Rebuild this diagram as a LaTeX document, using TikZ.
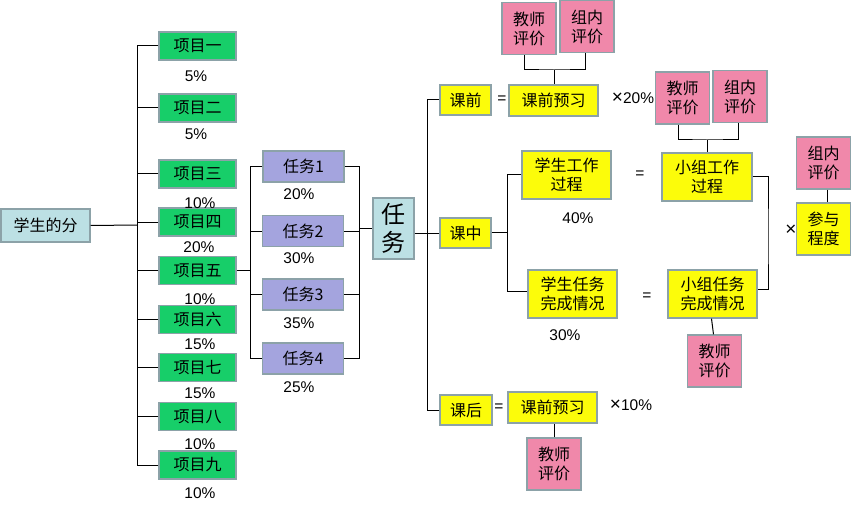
\documentclass[tikz,border=0pt]{standalone}
\usepackage{fontspec}
\setmainfont{Liberation Sans}
\newfontfamily\cjk{Noto Sans CJK SC}
\definecolor{bordergray}{HTML}{8CA2A8}
\definecolor{mgreen}{HTML}{17CE69}
\definecolor{mpurple}{HTML}{A4A4DE}
\definecolor{mpink}{HTML}{F088AA}
\definecolor{myellow}{HTML}{FCFC0A}
\definecolor{mblue}{HTML}{BCE0E4}
\tikzset{
  box/.style={draw=bordergray, line width=1.2pt, inner sep=0pt, align=center,
    font=\cjk\fontsize{16}{19}\selectfont},
  gbox/.style={box, fill=mgreen, minimum width=77pt, minimum height=28pt},
  pbox/.style={box, fill=mpurple, minimum width=81pt, minimum height=31pt},
  ybox/.style={box, fill=myellow},
  kbox/.style={box, fill=mpink, minimum width=54pt, minimum height=52pt},
  pct/.style={inner sep=0pt, font=\fontsize{15.5}{18}\selectfont},
  conn/.style={line width=1pt, black},
}
\newcommand{\tms}{{\fontsize{19}{18}\selectfont ×}}
\begin{document}
\begin{tikzpicture}[x=1pt,y=-1pt]
\useasboundingbox (0,0) rectangle (852,508);
% root
\node[box, fill=mblue, minimum width=89pt, minimum height=33pt] (root) at (45.5,225.5) {学生的分};
% projects
\node[gbox] (p1) at (197.5,46) {项目一};
\node[gbox] (p2) at (197.5,108) {项目二};
\node[gbox] (p3) at (197.5,174) {项目三};
\node[gbox] (p4) at (197.5,222) {项目四};
\node[gbox] (p5) at (197.5,270.5) {项目五};
\node[gbox] (p6) at (197.5,319.5) {项目六};
\node[gbox] (p7) at (197.5,367.5) {项目七};
\node[gbox] (p8) at (197.5,416.5) {项目八};
\node[gbox] (p9) at (197.5,465) {项目九};
\node[pct] (q1) at (196,76) {5\%};
\node[pct] (q2) at (196,134) {5\%};
\node[pct] (q3) at (200,203) {10\%};
\node[pct] (q4) at (199,247) {20\%};
\node[pct] (q5) at (200,299) {10\%};
\node[pct] (q6) at (200,344) {15\%};
\node[pct] (q7) at (200,393) {15\%};
\node[pct] (q8) at (200,444) {10\%};
\node[pct] (q9) at (200,493) {10\%};
\coordinate (trunk) at (137,225);
\draw[conn] (root.east) -- (trunk);
\draw[conn] (p1.west -| trunk) -- (p9.west -| trunk);
\foreach \i in {1,...,9} \draw[conn] (p\i.west) -- (p\i.west -| trunk);
% tasks
\node[pbox] (t1) at (303.5,166.5) {任务1};
\node[pbox] (t2) at (303,231) {任务2};
\node[pbox] (t3) at (303,294.5) {任务3};
\node[pbox] (t4) at (303,358.5) {任务4};
\node[pct] (r1) at (299,194) {20\%};
\node[pct] (r2) at (299,258) {30\%};
\node[pct] (r3) at (299,323) {35\%};
\node[pct] (r4) at (299,387) {25\%};
\coordinate (lb) at (250,270);
\coordinate (rb) at (359,228);
\draw[conn] (t1.west -| lb) -- (t4.west -| lb);
\foreach \i in {1,...,4} \draw[conn] (t\i.west) -- (t\i.west -| lb);
\draw[conn] (p5.east) -- (p5.east -| lb);
\draw[conn] (t1.east -| rb) -- (t4.east -| rb);
\foreach \i in {1,...,4} \draw[conn] (t\i.east) -- (t\i.east -| rb);
% big task
\node[box, fill=mblue, minimum width=41pt, minimum height=61pt,
  font=\cjk\fontsize{24}{28}\selectfont] (rw) at (393.5,228.5) {任\\务};
\draw[conn] (rb) -- (rb -| rw.west);
\coordinate (sb) at (427,233);
\draw[conn] (rw.east |- sb) -- (sb);
% lesson stages
\node[ybox, minimum width=51pt, minimum height=30pt] (kq) at (465.5,100) {课前};
\node[ybox, minimum width=51pt, minimum height=30pt] (kz) at (465.5,233) {课中};
\node[ybox, minimum width=52pt, minimum height=30pt] (kh) at (466,410) {课后};
\draw[conn] (kq.west -| sb) -- (kh.west -| sb);
\draw[conn] (kq.west) -- (kq.west -| sb);
\draw[conn] (kz.west) -- (kz.west -| sb);
\draw[conn] (kh.west) -- (kh.west -| sb);
% pre-class
\node[pct] (e1) at (502,100) {=};
\node[ybox, minimum width=89pt, minimum height=31pt] (y1) at (553.5,100.5) {课前预习};
\node[pct] (m1) at (633,98) {\tms 20\%};
\node[kbox] (a1) at (529,28.5) {教师\\评价};
\node[kbox] (b1) at (587,26.5) {组内\\评价};
\coordinate (j1) at (554,70);
\draw[conn] ([xshift=-5pt]a1.south) |- (j1) -| ([xshift=-2pt]b1.south);
\draw[conn] (j1) -- (j1 |- y1.north);
% in-class
\coordinate (cb) at (507,232);
\node[ybox, minimum width=89pt, minimum height=48pt] (w1) at (566.5,175) {学生工作\\过程};
\node[ybox, minimum width=89pt, minimum height=48pt] (w2) at (572.5,294) {学生任务\\完成情况};
\draw[conn] (kz.east |- cb) -- (cb);
\draw[conn] (w1.west -| cb) -- ([yshift=3pt]w2.west -| cb);
\draw[conn] (w1.west) -- (w1.west -| cb);
\draw[conn] ([yshift=3pt]w2.west) -- ([yshift=3pt]w2.west -| cb);
\node[pct] (f1) at (578,218) {40\%};
\node[pct] (f2) at (565,335) {30\%};
\node[pct] (e2) at (640,175) {=};
\node[pct] (e3) at (647,297) {=};
\node[ybox, minimum width=90pt, minimum height=48pt] (g1) at (707,177) {小组工作\\过程};
\node[ybox, minimum width=89pt, minimum height=48pt] (g2) at (712.5,294) {小组任务\\完成情况};
\node[kbox] (a2) at (682.5,98) {教师\\评价};
\node[kbox] (b2) at (740,96.5) {组内\\评价};
\coordinate (j2) at (707,140);
\draw[conn] ([xshift=-4pt]a2.south) |- (j2) -| ([xshift=-2pt]b2.south);
\draw[conn] (j2) -- (g1.north);
\coordinate (gb) at (768,240);
\draw[conn] (g1.east) -| (gb) |- ([yshift=5pt]g2.east);
\node[kbox] (a3) at (714.5,361) {教师\\评价};
\draw[conn] ([xshift=-1pt]g2.south) -- ([xshift=-1pt]a3.north);
\node[pct] (x1) at (791,230) {\tms};
\node[kbox] (b3) at (823.5,163) {组内\\评价};
\node[ybox, minimum width=54pt, minimum height=52pt] (c3) at (823.5,229) {参与\\程度};
\draw[conn] ([xshift=4pt]b3.south) -- ([xshift=4pt]c3.north);
% after class
\node[pct] (e4) at (499,408) {=};
\node[ybox, minimum width=89pt, minimum height=31pt] (y2) at (552.5,407.5) {课前预习};
\node[pct] (m2) at (631,405) {\tms 10\%};
\node[kbox] (a4) at (554,464) {教师\\评价};
\draw[conn] (a4.north) -- (a4.north |- y2.south);
\end{tikzpicture}
\end{document}
